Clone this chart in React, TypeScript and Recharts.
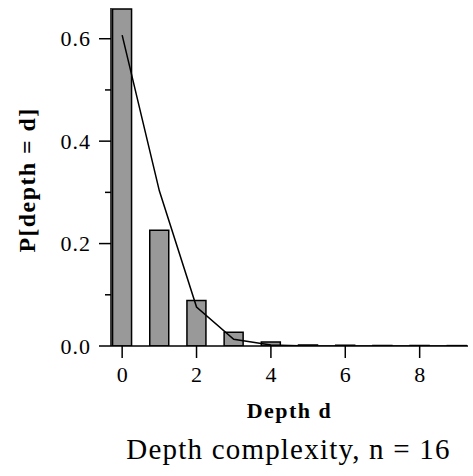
import React from 'react';
import { ComposedChart, Bar, Line, XAxis, YAxis } from 'recharts';

// observed distribution of depth d, and the fitted curve
const depths = [0, 1, 2, 3, 4, 5, 6, 7, 8, 9];
const observed = [0.658, 0.226, 0.089, 0.027, 0.008, 0.002, 0.0015, 0.001, 0.001, 0.0008];
const fitted = [0.607, 0.303, 0.076, 0.013, 0.002, 0.0002, 0, 0, 0, 0];
const xTicks = [0, 2, 4, 6, 8];
const yTicks = [0, 0.1, 0.2, 0.3, 0.4, 0.5, 0.6];

const FONT = '"Liberation Serif", "Times New Roman", serif';

const data = depths.map((d, i) => ({ d, p: observed[i], fit: fitted[i] }));

function XTick(props: any) {
  const { x, y, payload } = props;
  return (
    <g>
      <line x1={x} x2={x} y1={y} y2={y + 12} stroke="#000" strokeWidth={1.5} />
      <text x={x} y={y + 36} textAnchor="middle" fontFamily={FONT} fontSize={22} fill="#000">
        {payload.value}
      </text>
    </g>
  );
}

function YTick(props: any) {
  const { x, y, payload } = props;
  const major = Math.round(payload.value * 10) % 2 === 0;
  return (
    <g>
      <line x1={x - (major ? 12 : 6)} x2={x} y1={y} y2={y} stroke="#000" strokeWidth={1.5} />
      {major && (
        <text
          x={x - 20}
          y={y}
          dy="0.35em"
          textAnchor="end"
          fontFamily={FONT}
          fontSize={22}
          letterSpacing={1}
          fill="#000"
        >
          {payload.value.toFixed(1)}
        </text>
      )}
    </g>
  );
}

function XLabels(props: any) {
  const { x, y, width } = props.viewBox;
  const cx = x + width / 2;
  return (
    <g>
      <text
        x={cx}
        y={y + 72}
        textAnchor="middle"
        fontFamily={FONT}
        fontSize={22}
        fontWeight="bold"
        letterSpacing={1.5}
        fill="#000"
      >
        Depth d
      </text>
      <text
        x={cx - 1}
        y={y + 113}
        textAnchor="middle"
        fontFamily={FONT}
        fontSize={29}
        letterSpacing={1.2}
        fill="#000"
      >
        Depth complexity, n = 16
      </text>
    </g>
  );
}

function YLabel(props: any) {
  const { y, height } = props.viewBox;
  const cx = 27;
  const cy = y + height / 2 + 3;
  return (
    <text
      x={cx}
      y={cy}
      dy="0.35em"
      transform={`rotate(-90 ${cx} ${cy})`}
      textAnchor="middle"
      fontFamily={FONT}
      fontSize={24}
      fontWeight="bold"
      letterSpacing={1.4}
      fill="#000"
    >
      P[depth = d]
    </text>
  );
}

export default function App() {
  return (
    <div style={{ position: 'absolute', left: 0, top: 0, background: '#fff' }}>
      <ComposedChart width={473} height={476} data={data} margin={{ top: 8, right: 5, left: 0, bottom: 0 }}>
        <XAxis
          dataKey="d"
          type="number"
          domain={[-0.3, 9.3]}
          ticks={xTicks}
          allowDataOverflow
          height={130}
          tickSize={0}
          tickMargin={0}
          tickLine={false}
          tick={<XTick />}
          axisLine={{ stroke: '#000', strokeWidth: 1.5 }}
          label={<XLabels />}
        />
        <YAxis
          type="number"
          domain={[0, 0.66]}
          ticks={yTicks}
          allowDataOverflow
          width={111}
          tickSize={0}
          tickMargin={0}
          tickLine={false}
          tick={<YTick />}
          axisLine={{ stroke: '#000', strokeWidth: 1.5 }}
          label={<YLabel />}
        />
        <Bar dataKey="p" barSize={19} fill="#999999" stroke="#000" strokeWidth={1.5} isAnimationActive={false} />
        <Line
          dataKey="fit"
          type="linear"
          stroke="#000"
          strokeWidth={1.5}
          dot={false}
          activeDot={false}
          isAnimationActive={false}
        />
      </ComposedChart>
    </div>
  );
}
